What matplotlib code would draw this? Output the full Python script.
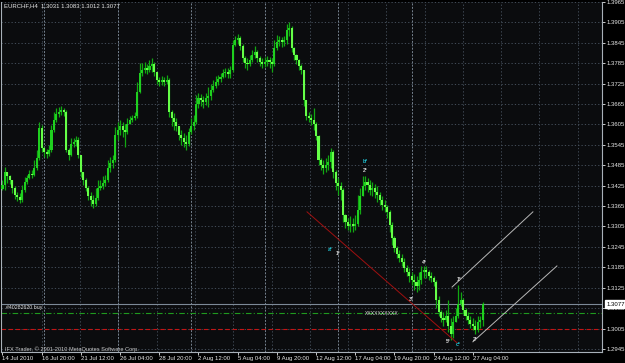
import numpy as np
import matplotlib
matplotlib.use('Agg')
import matplotlib.pyplot as plt

plt.rcParams['font.family'] = ['Liberation Sans', 'DejaVu Sans']

# EURCHF H4 bars, 14 Jul 2010 04:00 .. 27 Aug 2010 20:00
closes = [1.3427, 1.3465, 1.3454, 1.3442, 1.3418, 1.3398, 1.3392, 1.3383, 1.3412, 1.3436,
          1.3448, 1.3459, 1.3456, 1.3477, 1.3507, 1.3595, 1.3536, 1.3524, 1.3518, 1.3530,
          1.3589, 1.3618, 1.3636, 1.3642, 1.3647, 1.3642, 1.3530, 1.3515, 1.3548, 1.3554,
          1.3559, 1.3515, 1.3465, 1.3442, 1.3418, 1.3395, 1.3383, 1.3371, 1.3389, 1.3418,
          1.3424, 1.3433, 1.3442, 1.3477, 1.3492, 1.3501, 1.3574, 1.3589, 1.3600, 1.3589,
          1.3583, 1.3606, 1.3618, 1.3624, 1.3630, 1.3701, 1.3756, 1.3765, 1.3771, 1.3765,
          1.3777, 1.3783, 1.3759, 1.3736, 1.3730, 1.3736, 1.3730, 1.3736, 1.3642, 1.3624,
          1.3612, 1.3600, 1.3574, 1.3565, 1.3554, 1.3548, 1.3583, 1.3600, 1.3612, 1.3665,
          1.3683, 1.3677, 1.3671, 1.3683, 1.3689, 1.3706, 1.3718, 1.3730, 1.3739, 1.3745,
          1.3756, 1.3759, 1.3753, 1.3765, 1.3839, 1.3853, 1.3859, 1.3836, 1.3800, 1.3786,
          1.3783, 1.3795, 1.3809, 1.3818, 1.3800, 1.3789, 1.3783, 1.3789, 1.3795, 1.3789,
          1.3783, 1.3830, 1.3848, 1.3853, 1.3848, 1.3853, 1.3883, 1.3889, 1.3830, 1.3809,
          1.3795, 1.3777, 1.3765, 1.3677, 1.3630, 1.3624, 1.3618, 1.3606, 1.3571, 1.3501,
          1.3486, 1.3477, 1.3486, 1.3495, 1.3524, 1.3465, 1.3433, 1.3424, 1.3412, 1.3339,
          1.3318, 1.3307, 1.3312, 1.3307, 1.3312, 1.3354, 1.3395, 1.3424, 1.3436, 1.3427,
          1.3412, 1.3418, 1.3406, 1.3398, 1.3383, 1.3368, 1.3362, 1.3348, 1.3310, 1.3271,
          1.3242, 1.3224, 1.3212, 1.3201, 1.3183, 1.3171, 1.3160, 1.3148, 1.3142, 1.3130,
          1.3148, 1.3171, 1.3177, 1.3171, 1.3160, 1.3154, 1.3142, 1.3089, 1.3054, 1.3036,
          1.3030, 1.3042, 1.3013, 1.2989, 1.3024, 1.3042, 1.3077, 1.3089, 1.3060, 1.3042,
          1.3030, 1.3018, 1.3013, 1.3001, 1.3024, 1.3031, 1.3077]
highs = [1.3442, 1.3480, 1.3465, 1.3456, 1.3442, 1.3424, 1.3406, 1.3404, 1.3427, 1.3451,
         1.3456, 1.3471, 1.3471, 1.3501, 1.3530, 1.3612, 1.3603, 1.3539, 1.3533, 1.3545,
         1.3603, 1.3642, 1.3653, 1.3656, 1.3659, 1.3653, 1.3647, 1.3536, 1.3565, 1.3565,
         1.3571, 1.3568, 1.3515, 1.3465, 1.3448, 1.3424, 1.3406, 1.3398, 1.3418, 1.3442,
         1.3442, 1.3454, 1.3456, 1.3501, 1.3509, 1.3515, 1.3597, 1.3612, 1.3618, 1.3612,
         1.3606, 1.3624, 1.3630, 1.3633, 1.3642, 1.3730, 1.3786, 1.3786, 1.3789, 1.3783,
         1.3795, 1.3800, 1.3789, 1.3759, 1.3745, 1.3748, 1.3745, 1.3751, 1.3742, 1.3647,
         1.3639, 1.3624, 1.3600, 1.3589, 1.3580, 1.3574, 1.3595, 1.3624, 1.3633, 1.3692,
         1.3698, 1.3695, 1.3689, 1.3698, 1.3715, 1.3724, 1.3736, 1.3748, 1.3751, 1.3756,
         1.3768, 1.3771, 1.3771, 1.3777, 1.3853, 1.3865, 1.3871, 1.3865, 1.3842, 1.3806,
         1.3800, 1.3809, 1.3824, 1.3836, 1.3824, 1.3806, 1.3800, 1.3803, 1.3806, 1.3803,
         1.3800, 1.3853, 1.3868, 1.3865, 1.3862, 1.3865, 1.3900, 1.3906, 1.3895, 1.3833,
         1.3812, 1.3798, 1.3783, 1.3765, 1.3677, 1.3642, 1.3636, 1.3653, 1.3612, 1.3574,
         1.3507, 1.3501, 1.3507, 1.3515, 1.3536, 1.3530, 1.3471, 1.3448, 1.3436, 1.3418,
         1.3342, 1.3330, 1.3336, 1.3330, 1.3339, 1.3398, 1.3418, 1.3454, 1.3454, 1.3448,
         1.3442, 1.3436, 1.3430, 1.3424, 1.3406, 1.3395, 1.3383, 1.3368, 1.3354, 1.3318,
         1.3277, 1.3248, 1.3236, 1.3224, 1.3212, 1.3192, 1.3183, 1.3171, 1.3165, 1.3160,
         1.3171, 1.3189, 1.3189, 1.3189, 1.3177, 1.3171, 1.3160, 1.3148, 1.3101, 1.3060,
         1.3054, 1.3060, 1.3089, 1.3036, 1.3042, 1.3065, 1.3133, 1.3112, 1.3095, 1.3065,
         1.3054, 1.3042, 1.3036, 1.3030, 1.3042, 1.3042, 1.3083]
lows = [1.3412, 1.3412, 1.3433, 1.3430, 1.3404, 1.3386, 1.3380, 1.3374, 1.3377, 1.3406,
        1.3430, 1.3445, 1.3448, 1.3454, 1.3471, 1.3501, 1.3524, 1.3509, 1.3507, 1.3512,
        1.3524, 1.3583, 1.3612, 1.3627, 1.3633, 1.3630, 1.3524, 1.3501, 1.3512, 1.3539,
        1.3542, 1.3507, 1.3451, 1.3427, 1.3409, 1.3383, 1.3365, 1.3359, 1.3365, 1.3383,
        1.3412, 1.3415, 1.3424, 1.3436, 1.3465, 1.3477, 1.3495, 1.3559, 1.3574, 1.3568,
        1.3539, 1.3577, 1.3606, 1.3612, 1.3618, 1.3624, 1.3698, 1.3748, 1.3756, 1.3753,
        1.3759, 1.3759, 1.3748, 1.3724, 1.3718, 1.3721, 1.3718, 1.3724, 1.3627, 1.3600,
        1.3589, 1.3586, 1.3559, 1.3545, 1.3539, 1.3530, 1.3542, 1.3577, 1.3589, 1.3606,
        1.3653, 1.3659, 1.3653, 1.3662, 1.3656, 1.3677, 1.3701, 1.3712, 1.3721, 1.3730,
        1.3742, 1.3745, 1.3742, 1.3742, 1.3759, 1.3836, 1.3842, 1.3824, 1.3789, 1.3771,
        1.3765, 1.3777, 1.3789, 1.3800, 1.3789, 1.3777, 1.3771, 1.3774, 1.3777, 1.3771,
        1.3759, 1.3777, 1.3824, 1.3836, 1.3833, 1.3836, 1.3842, 1.3865, 1.3818, 1.3795,
        1.3783, 1.3765, 1.3753, 1.3659, 1.3618, 1.3612, 1.3603, 1.3589, 1.3559, 1.3486,
        1.3471, 1.3459, 1.3465, 1.3471, 1.3477, 1.3448, 1.3412, 1.3398, 1.3383, 1.3318,
        1.3301, 1.3295, 1.3289, 1.3289, 1.3295, 1.3307, 1.3342, 1.3395, 1.3412, 1.3406,
        1.3398, 1.3395, 1.3389, 1.3377, 1.3368, 1.3354, 1.3348, 1.3330, 1.3289, 1.3251,
        1.3230, 1.3212, 1.3201, 1.3189, 1.3171, 1.3160, 1.3142, 1.3133, 1.3118, 1.3112,
        1.3118, 1.3136, 1.3154, 1.3154, 1.3148, 1.3142, 1.3130, 1.3065, 1.3042, 1.3024,
        1.3013, 1.3024, 1.2995, 1.2971, 1.2977, 1.3024, 1.3036, 1.3071, 1.3048, 1.3030,
        1.3018, 1.3007, 1.3001, 1.2989, 1.2995, 1.3007, 1.3012]
first_open = 1.3415

date_labels = ["14 Jul 2010", "16 Jul 20:00", "21 Jul 12:00", "26 Jul 04:00", "28 Jul 20:00",
               "2 Aug 12:00", "5 Aug 04:00", "9 Aug 20:00", "12 Aug 12:00", "17 Aug 04:00",
               "19 Aug 20:00", "24 Aug 12:00", "27 Aug 04:00"]
date_bars = [0, 16, 32, 48, 64, 80, 96, 112, 128, 144, 160, 176, 192]
week_start_bars = [17, 47, 77, 107, 137, 167]
price_ticks = [1.2945, 1.3005, 1.3065, 1.3125, 1.3185, 1.3245, 1.3305, 1.3365, 1.3425,
               1.3485, 1.3545, 1.3605, 1.3665, 1.3725, 1.3785, 1.3845, 1.3905, 1.3965]

bid_price = 1.3077
order_price = 1.3050
stop_price = 1.3003

# wave marks
wave_text = ["a*", "1*", "b*", "2*", "3*", "4*", "5*", "c*", "1*", "2*"]
wave_bar = [133.7, 137.0, 148.0, 148.0, 167.0, 172.0, 181.8, 186.0, 186.3, 192.9]
wave_price = [1.3236, 1.3227, 1.3495, 1.3471, 1.3089, 1.3198, 1.2966, 1.2957, 1.3148, 1.2974]
wave_cyan = [True, False, True, False, False, False, False, True, False, False]

# trend lines (bar, price) ends
red_line = ([124.3, 185.5], [1.3348, 1.2963])
chan_upper = ([183.5, 216.5], [1.3127, 1.3348])
chan_lower = ([192.0, 226.3], [1.2966, 1.3189])

bg = '#0b0c0e'
grid_col = '#4c5764'
txt = '#e8e8e8'

fig = plt.figure(figsize=(6.25, 3.63), dpi=100, facecolor='black')
ax = fig.add_axes([1 / 625, 11 / 363, 601 / 625, 350 / 363])
ax.set_facecolor(bg)

c = np.array(closes)
h = np.array(highs)
l = np.array(lows)
o = np.array([first_open] + closes[:-1])
x = np.arange(len(c))

# grid
ax.set_yticks(price_ticks)
ax.set_yticklabels([f"{p:.4f}" for p in price_ticks])
for p in price_ticks:
    ax.axhline(p, color=grid_col, lw=0.6, ls=(0, (1.5, 2.5)), zorder=0)
for gx in np.arange(16.1, 246, 15.62):
    ax.axvline(gx, color=grid_col, lw=0.6, ls=(0, (1.5, 2.5)), zorder=0)
for sb in week_start_bars:
    ax.axvline(sb, color='#76828f', lw=0.7, ls=(0, (2, 1.5)), zorder=0)

# candles
ax.vlines(x, l, h, color='#12a812', lw=0.9, zorder=2)
up = c >= o
ax.bar(x[up], c[up] - o[up], bottom=o[up], width=0.85, color='#1fd01f', lw=0, zorder=3)
ax.bar(x[~up], c[~up] - o[~up], bottom=o[~up], width=0.85, color='#66ff48', lw=0, zorder=3)

# horizontal trade lines
ax.axhline(bid_price, color='#7d8a98', lw=0.8, zorder=1)
ax.axhline(order_price, color='#1f9a1f', lw=0.8, ls=(0, (5, 2, 1, 2)), zorder=1)
ax.axhline(stop_price, color='#c41414', lw=0.8, ls=(0, (4, 2.5)), zorder=1)

# trend lines
ax.plot(*red_line, color='#a01010', lw=0.7, zorder=4)
ax.plot(*chan_upper, color='#b8b8b8', lw=0.7, zorder=4)
ax.plot(*chan_lower, color='#b8b8b8', lw=0.7, zorder=4)

for t, b, p, cy in zip(wave_text, wave_bar, wave_price, wave_cyan):
    ax.text(b, p, t, color='#20c8d8' if cy else '#d0d0d0', fontsize=3.6,
            ha='center', va='center', fontweight='bold', zorder=5)

ax.text(155, order_price, "XXXXXXXXXX", color='#e0e0e0', fontsize=3.6,
        ha='center', va='center', zorder=5)
ax.text(1.5, 1.3066, "#40282620 buy", color='#e0e0e0', fontsize=3.8,
        ha='left', va='center', zorder=5)
ax.text(1.0, 1.2943, "IFX Trader, \u00a9 2001-2010 MetaQuotes Software Corp.",
        color='#c8c8c8', fontsize=4.1, ha='left', va='center', zorder=5)
ax.text(0.005, 0.988, "EURCHF,H4  1.3031 1.3083 1.3012 1.3077", transform=ax.transAxes,
        color=txt, fontsize=4.3, ha='left', va='center', zorder=5)

ax.set_xlim(-0.61, 244.7)
ax.set_ylim(1.2936, 1.3965)

ax.set_xticks(date_bars)
ax.set_xticklabels(date_labels, ha='left')
ax.yaxis.tick_right()
ax.tick_params(axis='y', colors=txt, labelsize=4.3, length=2, width=0.6, pad=1.5)
ax.tick_params(axis='x', colors=txt, labelsize=4.3, length=2, width=0.6, pad=1.2)
for s in ax.spines.values():
    s.set_color('#a8b0b8')
    s.set_linewidth(0.8)
ax.spines['top'].set_visible(False)

ax.annotate(f"{bid_price:.4f}", xy=(1.0, bid_price), xycoords=('axes fraction', 'data'),
            xytext=(3, 0), textcoords='offset points', ha='left', va='center',
            fontsize=4.3, color='black', annotation_clip=False, zorder=10,
            bbox=dict(boxstyle='square,pad=0.25', fc='white', ec='white'))

fig.savefig('out.png', dpi=100, facecolor='black')
